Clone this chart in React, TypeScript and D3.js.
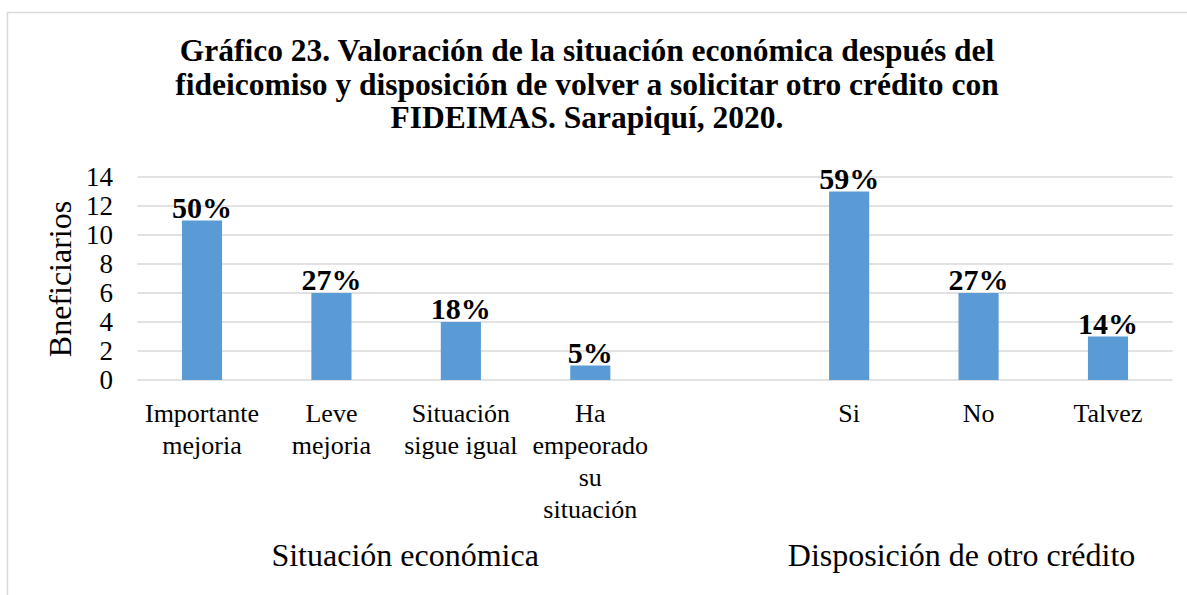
import React from 'react';
import * as d3 from 'd3';

// values
const titleLines = [
  'Gráfico 23. Valoración de la situación económica después del',
  'fideicomiso y disposición de volver a solicitar otro crédito con',
  'FIDEIMAS. Sarapiquí, 2020.',
];
const economicLabels = [['Importante', 'mejoria'], ['Leve', 'mejoria'], ['Situación', 'sigue igual'], ['Ha', 'empeorado', 'su', 'situación']];
const economicValues = [11, 6, 4, 1];
const economicPct = ['50%', '27%', '18%', '5%'];
const creditLabels = [['Si'], ['No'], ['Talvez']];
const creditValues = [13, 6, 3];
const creditPct = ['59%', '27%', '14%'];
const groupNames = ['Situación económica', 'Disposición de otro crédito'];
const yTicks = [0, 2, 4, 6, 8, 10, 12, 14];
const yTitle = 'Bneficiarios';

const W = 1187, H = 595;
const margin = { l: 137.3, r: 14.3, t: 177, b: 215 };
const FONT = '"Liberation Serif", "Times New Roman", serif';
const BAR = '#5B9BD5';
const GRID = '#D9D9D9';

type Row = { key: string; group: number; label: string[]; value: number; pct: string };

const rows: Row[] = [
  ...economicLabels.map((l, i) => ({ key: 'e' + i, group: 0, label: l, value: economicValues[i], pct: economicPct[i] })),
  ...creditLabels.map((l, i) => ({ key: 'c' + i, group: 1, label: l, value: creditValues[i], pct: creditPct[i] })),
];
// Excel leaves one empty slot between the two groups
const slots = [...rows.slice(0, 4).map(r => r.key), 'gap', ...rows.slice(4).map(r => r.key)];

export default function App() {
  const x = d3.scaleBand<string>()
    .domain(slots)
    .range([margin.l, W - margin.r])
    .paddingInner(0.69)
    .paddingOuter(0.345);
  const y = d3.scaleLinear().domain([0, 14]).range([H - margin.b, margin.t]);
  const cx = (k: string) => (x(k) as number) + x.bandwidth() / 2;
  const y0 = y(0);

  const groupCenter = (g: number) => d3.mean(rows.filter(r => r.group === g), r => cx(r.key)) as number;
  const groupNudge = [9, -17];

  return (
    <svg width={W} height={H} style={{ position: 'absolute', left: 0, top: 0, background: '#fff' }} fontFamily={FONT}>
      <rect x={7.5} y={12.5} width={W} height={H} fill="#fff" stroke={GRID} strokeWidth={1.5} />

      <text x={587} textAnchor="middle" fontWeight="bold" fontSize={31.5} fill="#000">
        {titleLines.map((t, i) => (
          <tspan key={i} x={587} y={61 + i * 33.5}>{t}</tspan>
        ))}
      </text>

      {yTicks.map(t => (
        <g key={t}>
          <line x1={margin.l} x2={W - margin.r} y1={y(t)} y2={y(t)} stroke={GRID} strokeWidth={1.5} />
          <text x={113} y={y(t)} dy="0.34em" textAnchor="end" fontSize={27} fill="#000">{t}</text>
        </g>
      ))}

      <text transform={`translate(71,279) rotate(-90)`} textAnchor="middle" fontSize={32} fill="#000">{yTitle}</text>

      {rows.map(r => (
        <g key={r.key}>
          <rect x={x(r.key)} y={y(r.value)} width={x.bandwidth()} height={y0 - y(r.value)} fill={BAR} />
          <text x={cx(r.key)} y={y(r.value) - 3} textAnchor="middle" fontWeight="bold" fontSize={30} fill="#000">{r.pct}</text>
          <text textAnchor="middle" fontSize={26} fill="#000">
            {r.label.map((l, i) => (
              <tspan key={i} x={cx(r.key)} y={y0 + 42 + i * 32}>{l}</tspan>
            ))}
          </text>
        </g>
      ))}

      {groupNames.map((g, i) => (
        <text key={g} x={groupCenter(i) + groupNudge[i]} y={566} textAnchor="middle" fontSize={32} fill="#000">{g}</text>
      ))}
    </svg>
  );
}
